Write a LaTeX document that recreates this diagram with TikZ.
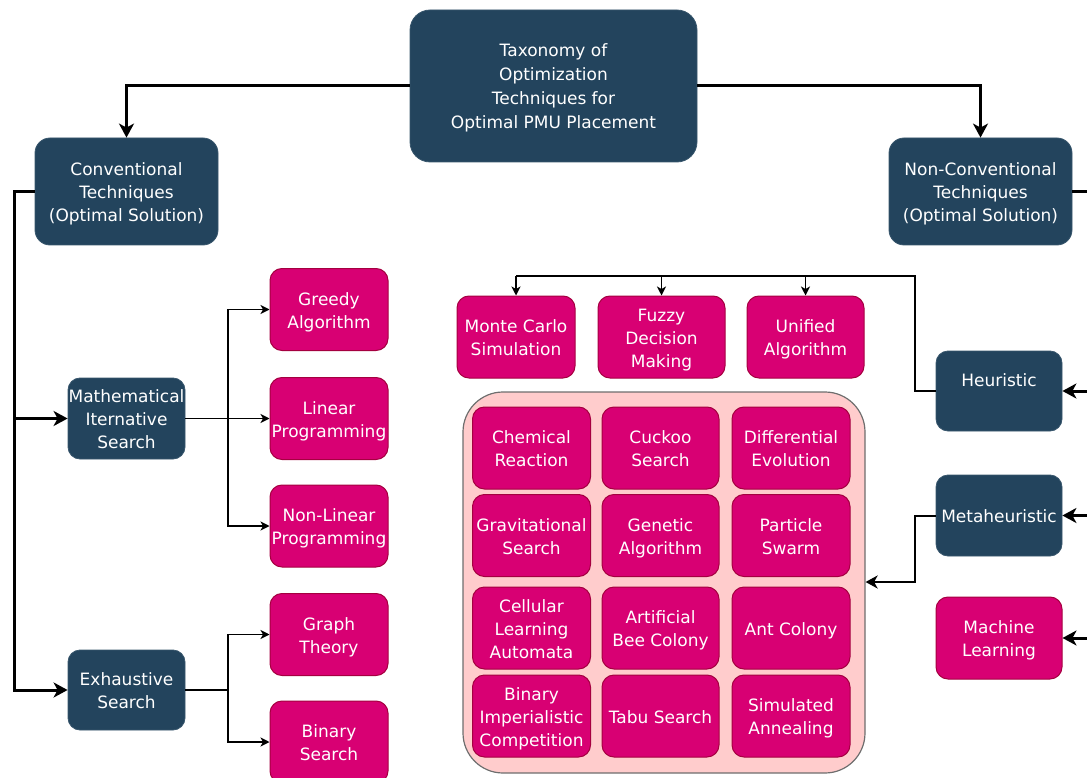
\documentclass[tikz,border=0pt]{standalone}
\usepackage{fontspec}
\setmainfont{DejaVu Sans}
\usetikzlibrary{arrows.meta}
\definecolor{navy}{HTML}{23445D}
\definecolor{magenta}{HTML}{D80073}
\definecolor{magline}{HTML}{A50040}
\definecolor{panel}{HTML}{FFCCCC}
\definecolor{panelline}{HTML}{6E6E6E}
% uniform line box: 18pt above the baseline, 4pt below
\newcommand{\linestrut}{\rule[-4pt]{0pt}{22pt}}
\newcommand{\bx}[1]{\linestrut#1\linestrut}
\tikzset{
  box/.style={align=center, text=white, inner sep=0pt,
    font=\fontsize{17}{23}\selectfont},
  dk/.style={box, fill=navy, draw=navy!90!white, line width=0.8pt, rounded corners=15pt},
  pk/.style={box, fill=magenta, draw=magline, line width=1pt, rounded corners=12pt,
    minimum width=118pt, minimum height=82pt},
  main/.style={line width=3pt},
  mainarrow/.style={main, -{Stealth[length=14pt, width=15pt, inset=4pt]}},
  thinline/.style={line width=1.2pt},
  thinarrow/.style={thinline, -{Stealth[length=9pt, width=9pt, inset=2.5pt]}},
  midarrow/.style={line width=2pt, -{Stealth[length=12pt, width=13pt, inset=3.5pt]}},
}
\begin{document}
\begin{tikzpicture}[x=1pt, y=-1pt]
\useasboundingbox (0,0) rectangle (1087,778);

% root and the two families
\node[dk, minimum width=287pt, minimum height=152pt, rounded corners=20pt,
  font=\fontsize{17}{24}\selectfont] (tax) at (553.5,86)
  {\bx{Taxonomy of\\Optimization\\Techniques for\\Optimal PMU Placement}};
\node[dk, minimum width=183pt, minimum height=107pt] (conv) at (126.5,191.5)
  {\bx{Conventional\\Techniques\\(Optimal Solution)}};
\node[dk, minimum width=183pt, minimum height=107pt] (nonconv) at (980.5,191.5)
  {\bx{Non-Conventional\\Techniques\\(Optimal Solution)}};

% conventional branch
\node[dk, minimum width=117pt, minimum height=81pt, rounded corners=12pt] (math) at (126.5,418.5)
  {\bx{Mathematical\\Iternative\\Search}};
\node[dk, minimum width=117pt, minimum height=80pt, rounded corners=12pt] (exh) at (126.5,690)
  {\bx{Exhaustive\\Search}};
\node[pk] (greedy) at (329,309.5) {\bx{Greedy\\Algorithm}};
\node[pk] (linear) at (329,418.5) {\bx{Linear\\Programming}};
\node[pk] (nonlin) at (329,526) {\bx{Non-Linear\\Programming}};
\node[pk] (graph) at (329,634.5) {\bx{Graph\\Theory}};
\node[pk] (binary) at (329,742) {\bx{Binary\\Search}};

% non-conventional branch
\node[dk, minimum width=126pt, minimum height=80pt, rounded corners=12pt] (heur) at (999,391)
  {\bx{Heuristic\\}};
\node[dk, minimum width=126pt, minimum height=81pt, rounded corners=12pt] (meta) at (999,515.5)
  {\bx{Metaheuristic}};
\node[pk, minimum width=126pt] (ml) at (999,638) {\bx{Machine\\Learning}};

\node[pk] (monte) at (516,337) {\bx{Monte Carlo\\Simulation}};
\node[pk, minimum width=127pt] (fuzzy) at (661.5,337) {\bx{Fuzzy\\Decision\\Making}};
\node[pk, minimum width=117pt] (unified) at (805.5,337) {\bx{Unified\\Algorithm}};

% metaheuristic panel
\node[fill=panel, draw=panelline, line width=1.2pt, rounded corners=40pt,
  minimum width=402pt, minimum height=381pt, inner sep=0pt] (panel) at (664,582.5) {};
\node[pk] (chem) at (531.5,448) {\bx{Chemical\\Reaction}};
\node[pk, minimum width=117pt] (cuckoo) at (660.5,448) {\bx{Cuckoo\\Search}};
\node[pk] (diff) at (791,448) {\bx{Differential\\Evolution}};
\node[pk] (grav) at (531.5,535.5) {\bx{Gravitational\\Search}};
\node[pk, minimum width=117pt] (gen) at (660.5,535.5) {\bx{Genetic\\Algorithm}};
\node[pk] (pso) at (791,535.5) {\bx{Particle\\Swarm}};
\node[pk] (cla) at (531.5,628) {\bx{Cellular\\Learning\\Automata}};
\node[pk, minimum width=117pt] (abc) at (660.5,628) {\bx{Artificial\\Bee Colony}};
\node[pk] (aco) at (791,628) {\bx{Ant Colony}};
\node[pk] (bic) at (531.5,716) {\bx{Binary\\Imperialistic\\Competition}};
\node[pk, minimum width=117pt] (tabu) at (660.5,716) {\bx{Tabu Search}};
\node[pk] (sa) at (791,716) {\bx{Simulated\\Annealing}};

% bend points of the connectors
\coordinate (lbus) at (14,690);
\coordinate (mbus) at (228,418.5);
\coordinate (ebus) at (228,690);
\coordinate (rbus) at (1100,638);
\coordinate (hbus) at (915,276);
\coordinate (pbus) at (915,582);

% root to families
\draw[mainarrow] (tax.west) -| (conv.north);
\draw[mainarrow] (tax.east) -| (nonconv.north);

% conventional connectors
\draw[mainarrow] (conv.west) -| (lbus) -- (exh.west);
\draw[mainarrow] (lbus |- math.west) -- (math.west);
\draw[thinline] (math.east) -- (mbus);
\draw[thinarrow] (mbus) |- (greedy.west);
\draw[thinarrow] (mbus) -- (linear.west);
\draw[thinarrow] (mbus) |- (nonlin.west);
\draw[thinline] (exh.east) -- (ebus);
\draw[thinarrow] (ebus) |- (graph.west);
\draw[thinarrow] (ebus) |- (binary.west);

% non-conventional connectors
\draw[main] (nonconv.east) -| (rbus);
\draw[mainarrow] (rbus |- heur.east) -- (heur.east);
\draw[mainarrow] (rbus |- meta.east) -- (meta.east);
\draw[mainarrow] (rbus) -- (ml.east);
\draw[thinline] (heur.west) -| (hbus) -- (hbus -| monte.north);
\draw[thinarrow] (hbus -| monte.north) -- (monte.north);
\draw[thinarrow] (hbus -| fuzzy.north) -- (fuzzy.north);
\draw[thinarrow] (hbus -| unified.north) -- (unified.north);
\draw[midarrow] (meta.west) -| (pbus) -- (pbus -| panel.east);
\end{tikzpicture}
\end{document}
